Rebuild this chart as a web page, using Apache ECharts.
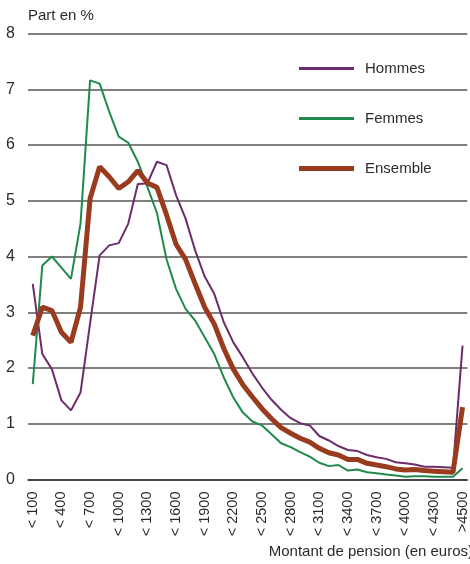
<!DOCTYPE html>
<html>
<head>
<meta charset="utf-8">
<script src="https://cdn.jsdelivr.net/npm/echarts@6/dist/echarts.min.js"></script>
<style>
  html, body { margin: 0; padding: 0; background: #fff; }
  #chart { width: 470px; height: 564px; }
</style>
</head>
<body>
<div id="chart"></div>
<script>
// tranches de pension, par pas de 100 euros
const categories = [
  '< 100', '< 200', '< 300', '< 400', '< 500', '< 600', '< 700', '< 800', '< 900', '< 1000',
  '< 1100', '< 1200', '< 1300', '< 1400', '< 1500', '< 1600', '< 1700', '< 1800', '< 1900', '< 2000',
  '< 2100', '< 2200', '< 2300', '< 2400', '< 2500', '< 2600', '< 2700', '< 2800', '< 2900', '< 3000',
  '< 3100', '< 3200', '< 3300', '< 3400', '< 3500', '< 3600', '< 3700', '< 3800', '< 3900', '< 4000',
  '< 4100', '< 4200', '< 4300', '< 4400', '< 4500', '>4500'
]

const hommes = [
  3.51, 2.25, 1.98, 1.42, 1.24, 1.56, 2.8, 4.02, 4.2, 4.24,
  4.59, 5.3, 5.31, 5.7, 5.64, 5.1, 4.68, 4.11, 3.64, 3.33,
  2.82, 2.46, 2.19, 1.9, 1.65, 1.43, 1.25, 1.1, 1.01, 0.97,
  0.78, 0.7, 0.6, 0.53, 0.51, 0.44, 0.4, 0.37, 0.31, 0.29,
  0.27, 0.23, 0.23, 0.22, 0.21, 2.4
]

const femmes = [
  1.71, 3.84, 4.0, 3.8, 3.6, 4.59, 7.16, 7.1, 6.6, 6.15,
  6.04, 5.7, 5.25, 4.78, 3.95, 3.42, 3.06, 2.85, 2.55, 2.25,
  1.83, 1.47, 1.2, 1.04, 0.97, 0.81, 0.65, 0.58, 0.49, 0.41,
  0.3, 0.24, 0.26, 0.16, 0.18, 0.13, 0.11, 0.09, 0.07, 0.05,
  0.06, 0.06, 0.05, 0.05, 0.05, 0.2
]

const ensemble = [
  2.58, 3.09, 3.03, 2.64, 2.46, 3.09, 5.04, 5.61, 5.43, 5.22,
  5.34, 5.54, 5.32, 5.24, 4.75, 4.22, 3.95, 3.51, 3.09, 2.79,
  2.35, 1.98, 1.7, 1.48, 1.27, 1.09, 0.93, 0.83, 0.74, 0.67,
  0.56, 0.48, 0.44, 0.36, 0.36, 0.29, 0.26, 0.23, 0.19, 0.17,
  0.18, 0.16, 0.15, 0.14, 0.13, 1.3
]

const FONT = '"Liberation Sans", Arial, sans-serif'
const TEXT = '#2b2b2b'

const chart = echarts.init(document.getElementById('chart'))

function legendFor(name, top, h) {
  return {
    data: [name],
    left: 294,
    top: top,
    icon: 'rect',
    itemWidth: 55,
    itemHeight: h,
    selectedMode: false,
    textStyle: { fontFamily: FONT, fontSize: 15, color: TEXT, padding: [0, 0, 0, 6] }
  }
}

chart.setOption({
  animation: false,
  backgroundColor: '#fff',
  grid: { left: 28, top: 33.5, width: 444, height: 446 },
  legend: [
    legendFor('Hommes', 56, 3),
    legendFor('Femmes', 106, 3),
    legendFor('Ensemble', 156, 5)
  ],
  graphic: [
    {
      type: 'text', left: 28, top: 8,
      style: { text: 'Part en %', font: '15px ' + FONT, fill: TEXT }
    },
    {
      type: 'text', right: -3, top: 544,
      style: { text: 'Montant de pension (en euros)', font: '15px ' + FONT, fill: TEXT }
    }
  ],
  xAxis: {
    type: 'category',
    data: categories,
    boundaryGap: true,
    axisLine: { lineStyle: { color: '#333', width: 1.5 } },
    axisTick: { interval: 0, length: 6, lineStyle: { color: '#333', width: 1 } },
    axisLabel: {
      interval: 2,
      rotate: 90,
      margin: 12,
      fontFamily: FONT,
      fontSize: 14.5,
      color: TEXT
    },
    splitLine: { show: false }
  },
  yAxis: {
    type: 'value',
    min: 0,
    max: 8,
    interval: 1,
    axisLine: { show: false },
    axisTick: { show: false },
    axisLabel: { margin: 13, fontFamily: FONT, fontSize: 16, color: TEXT },
    splitLine: { lineStyle: { color: '#555', width: 1.5 } }
  },
  series: [
    {
      name: 'Hommes', type: 'line', data: hommes, symbol: 'none',
      lineStyle: { color: '#6b2d6c', width: 2 }, itemStyle: { color: '#6b2d6c' }
    },
    {
      name: 'Femmes', type: 'line', data: femmes, symbol: 'none',
      lineStyle: { color: '#1f8a4c', width: 2 }, itemStyle: { color: '#1f8a4c' }
    },
    {
      name: 'Ensemble', type: 'line', data: ensemble, symbol: 'none',
      lineStyle: { color: '#993b1e', width: 5 }, itemStyle: { color: '#993b1e' }
    }
  ]
})
</script>
</body>
</html>
